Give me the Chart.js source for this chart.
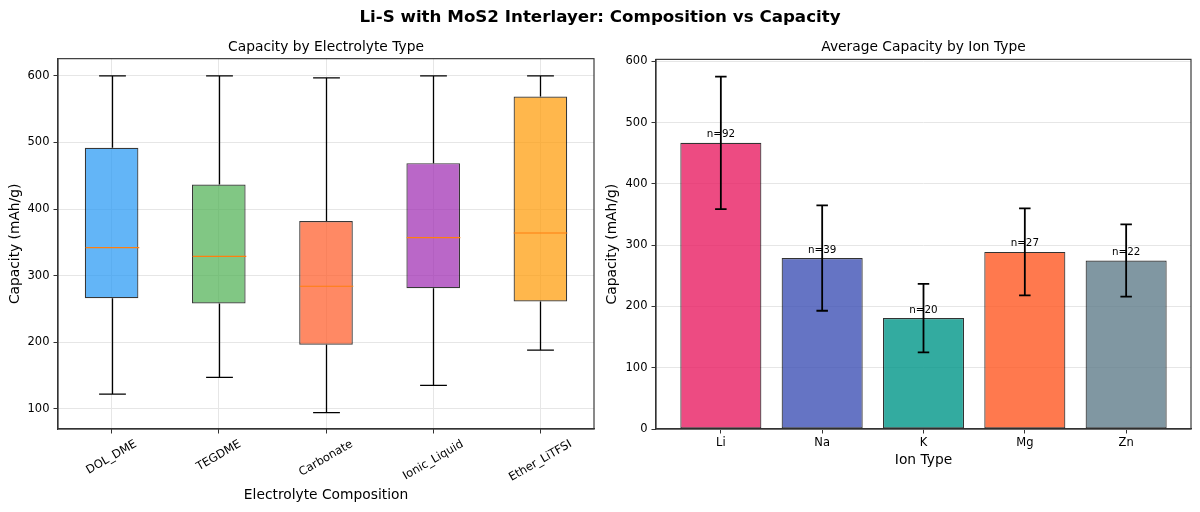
<!DOCTYPE html>
<html><head><meta charset="utf-8">
<script src="https://cdn.jsdelivr.net/npm/chart.js@4.4.1/dist/chart.umd.min.js"></script>
<style>
html,body{margin:0;padding:0;background:#fff;}
#wrap{position:relative;width:1200px;height:512px;overflow:hidden;background:#fff;}
#sup{position:absolute;left:0;top:0;width:1200px;height:32px;line-height:32px;text-align:center;font-family:'DejaVu Sans',sans-serif;font-weight:bold;font-size:16.7px;color:#000;z-index:2;}
canvas{position:absolute;top:0;}
#c1{left:0}
#c2{left:600px}
</style></head><body>
<div id="wrap">
<div id="sup">Li-S with MoS2 Interlayer: Composition vs Capacity</div>
<canvas id="c1" width="600" height="512"></canvas>
<canvas id="c2" width="600" height="512"></canvas>
</div>
<script>
// ---- Left panel data (box plot) ----
const electrolytes = ['DOL_DME', 'TEGDME', 'Carbonate', 'Ionic_Liquid', 'Ether_LiTFSI'];
const whiskerLow  = [122, 147, 94, 135, 188];
const quartile1   = [266, 258, 196, 281, 261];
const medians     = [342, 329, 284, 357, 364];
const quartile3   = [492, 437, 382, 469, 569];
const whiskerHigh = [600, 600, 597, 600, 600];
const boxColors = ['rgba(33,150,243,0.7)', 'rgba(76,175,80,0.7)', 'rgba(255,87,34,0.7)', 'rgba(156,39,176,0.7)', 'rgba(255,152,0,0.7)'];
const leftYTicks = [100, 200, 300, 400, 500, 600];

// ---- Right panel data (bars) ----
const ionTypes = ['Li', 'Na', 'K', 'Mg', 'Zn'];
const meanCapacity = [467, 279, 181, 289, 275];
const stdCapacity  = [108, 86, 56, 71, 59];
const sampleCounts = [92, 39, 20, 27, 22];
const ionColors = ['rgba(233,30,99,0.8)', 'rgba(63,81,181,0.8)', 'rgba(0,150,136,0.8)', 'rgba(255,87,34,0.8)', 'rgba(96,125,139,0.8)'];
const rightYTicks = [0, 100, 200, 300, 400, 500, 600];

Chart.defaults.font.family = "'DejaVu Sans', sans-serif";
Chart.defaults.color = '#000';
Chart.defaults.animation = false;

const AX = '#333';
const GRID = '#e6e6e6';

const frame = {id:'frame', afterDraw(chart){
  const {ctx, chartArea:a} = chart;
  ctx.save(); ctx.strokeStyle = AX; ctx.lineWidth = 1.15;
  ctx.strokeRect(a.left, a.top, a.right - a.left, a.bottom - a.top);
  ctx.restore();
}};

const boxParts = {id:'boxParts', afterDatasetsDraw(chart){
  const {ctx, scales:{x, y}} = chart;
  const unit = x.getPixelForValue(1) - x.getPixelForValue(0);
  const boxHalf = unit * 0.25, capHalf = unit * 0.125;
  ctx.save();
  ctx.lineWidth = 1.3;
  electrolytes.forEach((_, i) => {
    const cx = Math.round(x.getPixelForValue(i)) + 0.5;
    ctx.strokeStyle = '#000';
    ctx.beginPath();
    ctx.moveTo(cx, y.getPixelForValue(quartile3[i])); ctx.lineTo(cx, y.getPixelForValue(whiskerHigh[i]));
    ctx.moveTo(cx, y.getPixelForValue(quartile1[i])); ctx.lineTo(cx, y.getPixelForValue(whiskerLow[i]));
    ctx.moveTo(cx - capHalf, y.getPixelForValue(whiskerHigh[i])); ctx.lineTo(cx + capHalf, y.getPixelForValue(whiskerHigh[i]));
    ctx.moveTo(cx - capHalf, y.getPixelForValue(whiskerLow[i])); ctx.lineTo(cx + capHalf, y.getPixelForValue(whiskerLow[i]));
    ctx.stroke();
    ctx.strokeStyle = '#ff7f0e';
    ctx.lineWidth = 1.2;
    ctx.beginPath();
    ctx.moveTo(cx - boxHalf, y.getPixelForValue(medians[i])); ctx.lineTo(cx + boxHalf, y.getPixelForValue(medians[i]));
    ctx.stroke();
    ctx.lineWidth = 1.3;
  });
  ctx.restore();
}};

const rotLabels = {id:'rotLabels', afterDraw(chart){
  const {ctx} = chart; const xs = chart.scales.x;
  const fs = 11.5;
  ctx.save(); ctx.font = fs + "px 'DejaVu Sans'"; ctx.fillStyle = '#000';
  ctx.textAlign = 'center'; ctx.textBaseline = 'middle';
  const ang = 30 * Math.PI / 180;
  const top = xs.top + 4.5 + 4;
  xs.getLabels().forEach((lab, i) => {
    const w = ctx.measureText(lab).width; const h = fs * 1.17;
    const bh = w * Math.sin(ang) + h * Math.cos(ang);
    const cx = xs.getPixelForValue(i); const cy = top + bh / 2;
    ctx.save(); ctx.translate(cx, cy); ctx.rotate(-ang); ctx.fillText(lab, 0, 0); ctx.restore();
  });
  ctx.restore();
}};

const errBars = {id:'errBars', afterDatasetsDraw(chart){
  const {ctx, scales:{x, y}} = chart;
  ctx.save();
  ionTypes.forEach((_, i) => {
    const cx = x.getPixelForValue(i);
    const yt = y.getPixelForValue(meanCapacity[i] + stdCapacity[i]);
    const yb = y.getPixelForValue(meanCapacity[i] - stdCapacity[i]);
    ctx.fillStyle = '#000';
    ctx.font = "10.35px 'DejaVu Sans'"; ctx.textAlign = 'center'; ctx.textBaseline = 'bottom';
    ctx.fillText('n=' + sampleCounts[i], cx, y.getPixelForValue(meanCapacity[i] + 5));
    ctx.strokeStyle = '#000'; ctx.lineWidth = 1.8;
    ctx.beginPath();
    ctx.moveTo(cx, yt); ctx.lineTo(cx, yb);
    ctx.moveTo(cx - 5.75, yt); ctx.lineTo(cx + 5.75, yt);
    ctx.moveTo(cx - 5.75, yb); ctx.lineTo(cx + 5.75, yb);
    ctx.stroke();
  });
  ctx.restore();
}};

new Chart(document.getElementById('c1'), {
  type: 'bar',
  data: {
    labels: electrolytes,
    datasets: [{
      data: quartile1.map((v, i) => [v, quartile3[i]]),
      backgroundColor: boxColors,
      borderColor: 'rgba(0,0,0,0.78)',
      borderWidth: 1.2,
      borderSkipped: false,
      categoryPercentage: 1.0,
      barPercentage: 0.5
    }]
  },
  options: {
    responsive: false, devicePixelRatio: 1,
    layout: {padding: {left: 0, right: 6, top: 0, bottom: 0}},
    plugins: {
      legend: {display: false}, tooltip: {enabled: false},
      title: {display: true, text: 'Capacity by Electrolyte Type', fullSize: false, color: '#000',
        font: {size: 13.8, weight: 'normal'}, padding: {top: 39.5, bottom: 2.6}}
    },
    scales: {
      x: {
        type: 'category', offset: true,
        afterFit: s => { s.height = 83; },
        ticks: {display: false},
        grid: {offset: false, color: GRID, tickColor: AX, tickLength: 4.5, lineWidth: 1},
        border: {color: AX, width: 1.15},
        title: {display: true, text: 'Electrolyte Composition', color: '#000', font: {size: 13.8}, padding: {top: 0, bottom: 8.7}}
      },
      y: {
        min: 69.5, max: 626,
        afterBuildTicks: s => { s.ticks = leftYTicks.map(v => ({value: v})); },
        afterFit: s => { s.width = 58; },
        ticks: {font: {size: 11.5}, padding: 4, color: '#000'},
        grid: {color: GRID, tickColor: AX, tickLength: 4.5, lineWidth: 1},
        border: {color: AX, width: 1.15},
        title: {display: true, text: 'Capacity (mAh/g)', color: '#000', font: {size: 13.8}, padding: {top: 6.7, bottom: 0}}
      }
    }
  },
  plugins: [boxParts, rotLabels, frame]
});

new Chart(document.getElementById('c2'), {
  type: 'bar',
  data: {
    datasets: [{
      data: ionTypes.map((_, i) => ({x: i, y: meanCapacity[i]})),
      backgroundColor: ionColors,
      borderColor: 'rgba(0,0,0,0.8)',
      borderWidth: 1.15,
      borderSkipped: false,
      categoryPercentage: 1.0,
      barPercentage: 0.8
    }]
  },
  options: {
    responsive: false, devicePixelRatio: 1,
    layout: {padding: {left: 0, right: 9, top: 0, bottom: 0}},
    plugins: {
      legend: {display: false}, tooltip: {enabled: false},
      title: {display: true, text: 'Average Capacity by Ion Type', fullSize: false, color: '#000',
        font: {size: 13.8, weight: 'normal'}, padding: {top: 39.5, bottom: 3.3}}
    },
    scales: {
      x: {
        type: 'linear', min: -0.64, max: 4.64, offset: false,
        afterBuildTicks: s => { s.ticks = ionTypes.map((_, i) => ({value: i})); },
        afterFit: s => { s.height = 83; },
        ticks: {callback: v => ionTypes[v], font: {size: 11.5}, padding: 3, maxRotation: 0, minRotation: 0, autoSkip: false, color: '#000'},
        grid: {offset: false, drawOnChartArea: false, tickColor: AX, tickLength: 4.5},
        border: {color: AX, width: 1.15},
        title: {display: true, text: 'Ion Type', color: '#000', font: {size: 13.8}, padding: {top: 0, bottom: 43.2}}
      },
      y: {
        min: 0, max: 603.3,
        afterBuildTicks: s => { s.ticks = rightYTicks.map(v => ({value: v})); },
        afterFit: s => { s.width = 56; },
        ticks: {font: {size: 11.5}, padding: 4, color: '#000'},
        grid: {color: GRID, tickColor: AX, tickLength: 4.5, lineWidth: 1},
        border: {color: AX, width: 1.15},
        title: {display: true, text: 'Capacity (mAh/g)', color: '#000', font: {size: 13.8}, padding: {top: 4.2, bottom: 0}}
      }
    }
  },
  plugins: [errBars, frame]
});
</script>
</body></html>
